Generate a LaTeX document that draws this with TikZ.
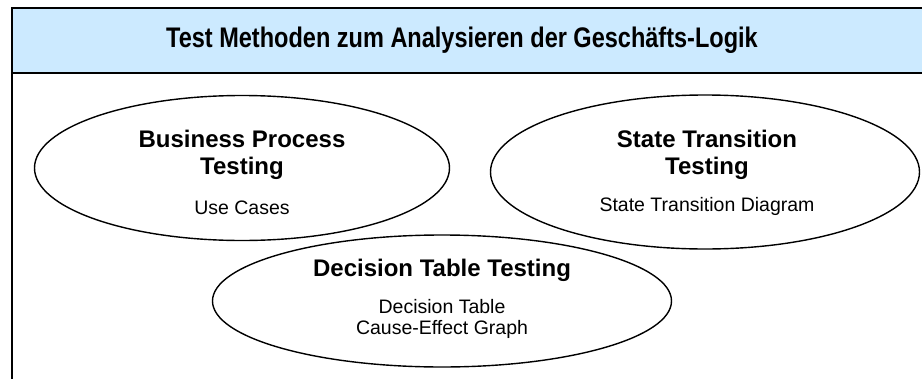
\documentclass[tikz,border=0pt]{standalone}
\usepackage{fontspec}
\setmainfont{Liberation Sans}
\usetikzlibrary{shapes.geometric, positioning}

\definecolor{headblue}{RGB}{204,234,255}

\tikzset{
    topic/.style={ellipse, draw, line width=1.4pt, inner sep=0pt},
    head/.style={align=center, font=\fontsize{24}{27}\selectfont\bfseries},
    sub/.style={align=center, font=\fontsize{19.5}{21}\selectfont},
}

\begin{document}
\begin{tikzpicture}[x=1pt, y=-1pt]
        \useasboundingbox (0,0) rectangle (922,378);
        % header bar and frame
        \draw[line width=2.5pt, fill=headblue] (12,8) rectangle (940,73);
        \draw[line width=1.4pt] (12,73) -- (12,390);
        \node[head] (title) at (462,40) {\scalebox{0.98}[1.18]{Test Methoden zum Analysieren der Gesch\"afts-Logik}};

        % the three methods
        \node[topic, minimum width=415pt, minimum height=145pt] (bpt) at (242,168) {};
        \node[head] (bpthead) at (242,155) {Business Process\\Testing};
        \node[sub] (bptsub) at (242,208) {Use Cases};

        \node[topic, minimum width=429pt, minimum height=154pt] (stt) at (705,172) {};
        \node[head] (stthead) at (707,155) {State Transition\\Testing};
        \node[sub] (sttsub) at (707,206) {State Transition Diagram};

        \node[topic, minimum width=459pt, minimum height=132pt] (dtt) at (442,301) {};
        \node[head] (dtthead) at (442,270) {Decision Table Testing};
        \node[sub] (dttsub) at (442,319) {Decision Table\\Cause-Effect Graph};
\end{tikzpicture}
\end{document}
